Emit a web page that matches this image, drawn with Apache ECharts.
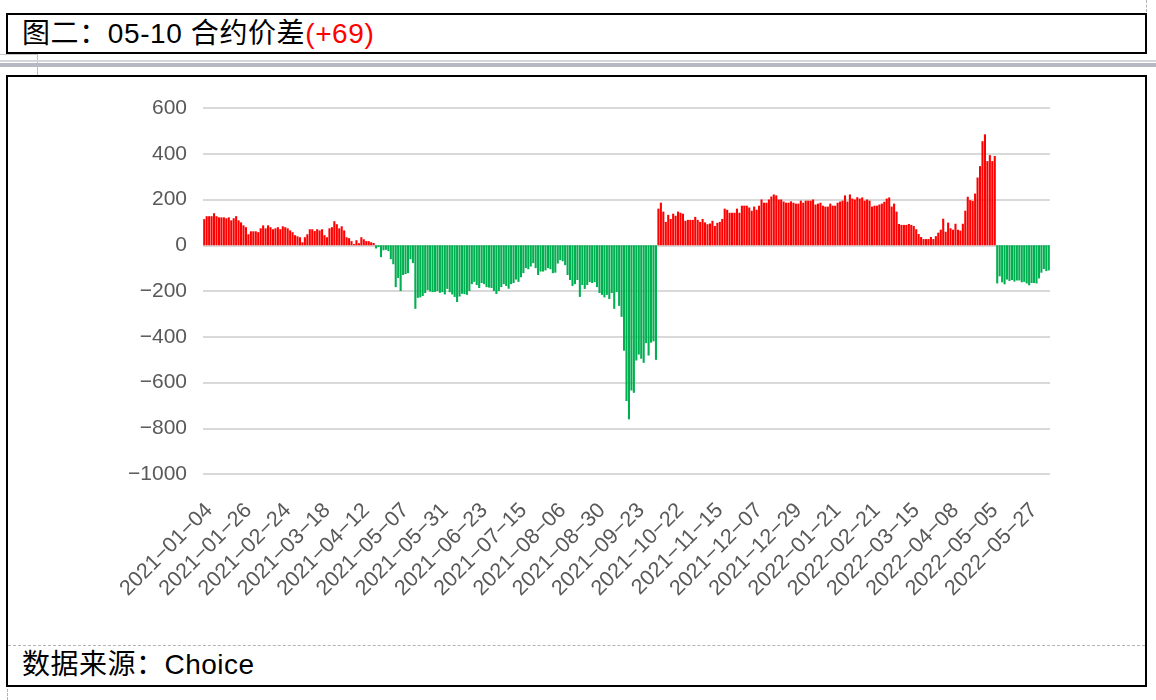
<!DOCTYPE html>
<html><head><meta charset="utf-8">
<script src="https://cdn.jsdelivr.net/npm/echarts@6/dist/echarts.min.js"></script>
<style>
html,body{margin:0;padding:0;background:#fff;width:1156px;height:700px;overflow:hidden;font-family:"Liberation Sans","Noto Sans CJK SC",sans-serif;}
.abs{position:absolute;}
#titleBox{left:6px;top:13px;width:1141px;height:41px;border:2px solid #000;box-sizing:border-box;}
#title{left:22px;top:17px;font-size:28px;line-height:34px;color:#000;white-space:nowrap;letter-spacing:0.6px;}
#title span{color:#ff0000;}
#sep1{left:0;top:60px;width:1156px;height:2px;background:#d4d4dc;}
#sep2{left:0;top:63px;width:1156px;height:4px;background:#b8b8c2;}
#cellH{left:0;top:54px;width:38px;height:1px;background:#c8c8c8;}
#cellV{left:37px;top:54px;width:1px;height:21px;background:#c0c0c0;}
#mainBox{left:6px;top:75px;width:1141px;height:612px;border:2px solid #000;box-sizing:border-box;}
#dash{left:8px;top:645px;width:1137px;height:0;border-top:1px dashed #b4b4b4;}
#src{left:22px;top:648px;font-size:28px;line-height:34px;color:#000;white-space:nowrap;letter-spacing:0.5px;}
#dashB{left:7px;top:689px;width:0;height:11px;border-left:1px dashed #b4b4b4;}
#dashT{left:1146px;top:0;width:0;height:12px;border-left:1px dashed #b4b4b4;}
#chart{left:0;top:0;width:1156px;height:700px;}
</style></head>
<body>
<div class="abs" id="titleBox"></div>
<div class="abs" id="title">图二：05-10 合约价差<span>(+69)</span></div>
<div class="abs" id="cellH"></div>
<div class="abs" id="cellV"></div>
<div class="abs" id="sep1"></div>
<div class="abs" id="sep2"></div>
<div class="abs" id="dashT"></div>
<div class="abs" id="mainBox"></div>
<div class="abs" id="dash"></div>
<div class="abs" id="src">数据来源：Choice</div>
<div class="abs" id="dashB"></div>
<div class="abs" id="chart"></div>
<script>
const dates = [
"2021-01-04","2021-01-05","2021-01-06","2021-01-07","2021-01-08","2021-01-11","2021-01-12","2021-01-13","2021-01-14","2021-01-15","2021-01-18","2021-01-19","2021-01-20","2021-01-21","2021-01-22","2021-01-25","2021-01-26","2021-01-27","2021-01-28","2021-01-29",
"2021-02-01","2021-02-02","2021-02-03","2021-02-04","2021-02-05","2021-02-08","2021-02-09","2021-02-10","2021-02-18","2021-02-19","2021-02-22","2021-02-23","2021-02-24","2021-02-25","2021-02-26",
"2021-03-01","2021-03-02","2021-03-03","2021-03-04","2021-03-05","2021-03-08","2021-03-09","2021-03-10","2021-03-11","2021-03-12","2021-03-15","2021-03-16","2021-03-17","2021-03-18","2021-03-19","2021-03-22","2021-03-23","2021-03-24","2021-03-25","2021-03-26","2021-03-29","2021-03-30","2021-03-31",
"2021-04-01","2021-04-02","2021-04-06","2021-04-07","2021-04-08","2021-04-09","2021-04-12","2021-04-13","2021-04-14","2021-04-15","2021-04-16","2021-04-19","2021-04-20","2021-04-21","2021-04-22","2021-04-23","2021-04-26","2021-04-27","2021-04-28","2021-04-29","2021-04-30",
"2021-05-06","2021-05-07","2021-05-10","2021-05-11","2021-05-12","2021-05-13","2021-05-14","2021-05-17","2021-05-18","2021-05-19","2021-05-20","2021-05-21","2021-05-24","2021-05-25","2021-05-26","2021-05-27","2021-05-28","2021-05-31",
"2021-06-01","2021-06-02","2021-06-03","2021-06-04","2021-06-07","2021-06-08","2021-06-09","2021-06-10","2021-06-11","2021-06-15","2021-06-16","2021-06-17","2021-06-18","2021-06-21","2021-06-22","2021-06-23","2021-06-24","2021-06-25","2021-06-28","2021-06-29","2021-06-30",
"2021-07-01","2021-07-02","2021-07-05","2021-07-06","2021-07-07","2021-07-08","2021-07-09","2021-07-12","2021-07-13","2021-07-14","2021-07-15","2021-07-16","2021-07-19","2021-07-20","2021-07-21","2021-07-22","2021-07-23","2021-07-26","2021-07-27","2021-07-28","2021-07-29","2021-07-30",
"2021-08-02","2021-08-03","2021-08-04","2021-08-05","2021-08-06","2021-08-09","2021-08-10","2021-08-11","2021-08-12","2021-08-13","2021-08-16","2021-08-17","2021-08-18","2021-08-19","2021-08-20","2021-08-23","2021-08-24","2021-08-25","2021-08-26","2021-08-27","2021-08-30","2021-08-31",
"2021-09-01","2021-09-02","2021-09-03","2021-09-06","2021-09-07","2021-09-08","2021-09-09","2021-09-10","2021-09-13","2021-09-14","2021-09-15","2021-09-16","2021-09-17","2021-09-22","2021-09-23","2021-09-24","2021-09-27","2021-09-28","2021-09-29","2021-09-30",
"2021-10-08","2021-10-11","2021-10-12","2021-10-13","2021-10-14","2021-10-15","2021-10-18","2021-10-19","2021-10-20","2021-10-21","2021-10-22","2021-10-25","2021-10-26","2021-10-27","2021-10-28","2021-10-29",
"2021-11-01","2021-11-02","2021-11-03","2021-11-04","2021-11-05","2021-11-08","2021-11-09","2021-11-10","2021-11-11","2021-11-12","2021-11-15","2021-11-16","2021-11-17","2021-11-18","2021-11-19","2021-11-22","2021-11-23","2021-11-24","2021-11-25","2021-11-26","2021-11-29","2021-11-30",
"2021-12-01","2021-12-02","2021-12-03","2021-12-06","2021-12-07","2021-12-08","2021-12-09","2021-12-10","2021-12-13","2021-12-14","2021-12-15","2021-12-16","2021-12-17","2021-12-20","2021-12-21","2021-12-22","2021-12-23","2021-12-24","2021-12-27","2021-12-28","2021-12-29","2021-12-30","2021-12-31",
"2022-01-04","2022-01-05","2022-01-06","2022-01-07","2022-01-10","2022-01-11","2022-01-12","2022-01-13","2022-01-14","2022-01-17","2022-01-18","2022-01-19","2022-01-20","2022-01-21","2022-01-24","2022-01-25","2022-01-26","2022-01-27","2022-01-28",
"2022-02-07","2022-02-08","2022-02-09","2022-02-10","2022-02-11","2022-02-14","2022-02-15","2022-02-16","2022-02-17","2022-02-18","2022-02-21","2022-02-22","2022-02-23","2022-02-24","2022-02-25","2022-02-28",
"2022-03-01","2022-03-02","2022-03-03","2022-03-04","2022-03-07","2022-03-08","2022-03-09","2022-03-10","2022-03-11","2022-03-14","2022-03-15","2022-03-16","2022-03-17","2022-03-18","2022-03-21","2022-03-22","2022-03-23","2022-03-24","2022-03-25","2022-03-28","2022-03-29","2022-03-30","2022-03-31",
"2022-04-01","2022-04-06","2022-04-07","2022-04-08","2022-04-11","2022-04-12","2022-04-13","2022-04-14","2022-04-15","2022-04-18","2022-04-19","2022-04-20","2022-04-21","2022-04-22","2022-04-25","2022-04-26","2022-04-27","2022-04-28","2022-04-29",
"2022-05-05","2022-05-06","2022-05-09","2022-05-10","2022-05-11","2022-05-12","2022-05-13","2022-05-16","2022-05-17","2022-05-18","2022-05-19","2022-05-20","2022-05-23","2022-05-24","2022-05-25","2022-05-26","2022-05-27","2022-05-30","2022-05-31",
"2022-06-01","2022-06-02","2022-06-06","2022-06-07","2022-06-08","2022-06-09"
];
const spread = [
114,127,127,127,140,127,122,122,122,118,
122,109,118,127,109,100,87,79,48,61,
61,61,57,74,87,74,87,79,70,74,
79,70,83,79,74,65,57,44,39,35,
13,35,48,70,70,62,70,65,70,44,
35,74,79,105,92,74,83,65,35,31,
18,5,22,9,35,26,18,18,13,10,
-14,-8,-52,-22,-20,-26,-61,-83,-183,-143,
-200,-130,-126,-122,-61,-78,-278,-230,-228,-222,
-209,-196,-202,-205,-204,-200,-208,-205,-215,-191,
-205,-215,-226,-248,-224,-212,-213,-217,-200,-170,
-160,-174,-187,-165,-170,-183,-185,-187,-200,-213,
-200,-183,-170,-178,-190,-170,-165,-150,-160,-140,
-122,-100,-105,-93,-78,-100,-130,-115,-115,-110,
-100,-105,-122,-120,-80,-65,-70,-87,-130,-152,
-178,-170,-152,-226,-174,-191,-174,-161,-165,-161,
-183,-209,-217,-228,-217,-235,-209,-278,-204,-265,
-313,-461,-681,-761,-635,-645,-504,-478,-496,-514,
-428,-482,-426,-420,-501,160,186,147,102,133,
115,138,129,147,142,138,107,111,111,111,
124,111,102,115,100,92,95,107,84,98,
102,115,160,155,142,142,142,160,142,173,
173,173,165,151,169,155,173,200,186,186,
200,213,222,218,200,200,191,186,186,192,
186,182,182,195,186,195,195,195,200,178,
182,186,173,169,169,182,173,173,186,191,
195,218,191,222,204,200,210,204,209,195,
200,195,169,173,173,178,182,190,204,209,
169,182,147,93,89,89,89,93,89,84,
70,49,36,27,27,27,36,27,40,55,
68,116,59,99,74,68,94,68,64,94,
151,212,197,194,226,296,346,455,485,368,
394,368,390,-167,-136,-162,-171,-150,-156,-152,
-159,-154,-154,-162,-160,-167,-175,-165,-165,-167,
-145,-120,-104,-113,-110
];
const yTicks = {min: -1000, max: 600, step: 200};
const UP = '#ff0000', DOWN = '#00b050';

const chart = echarts.init(document.getElementById('chart'), null, {renderer: 'canvas'});
chart.setOption({
  animation: false,
  grid: [
    {left: 203, right: 106, top: 108, bottom: 226, containLabel: false},
    {left: 208, right: 101, top: 108, bottom: 226, containLabel: false}
  ],
  xAxis: [{
    gridIndex: 0, type: 'category', data: dates,
    axisLine: {show: false}, axisTick: {show: false}, splitLine: {show: false},
    axisLabel: {show: false}
  }, {
    gridIndex: 1, type: 'category', data: dates,
    axisLine: {show: false}, axisTick: {show: false}, splitLine: {show: false},
    axisLabel: {
      interval: 15, rotate: 45, fontSize: 21.5, color: '#595959',
      fontFamily: 'Liberation Sans', margin: 33, padding: [47, 0, 0, 0],
      formatter: v => v.replace(/-/g, '\u2212')
    }
  }],
  yAxis: [{
    gridIndex: 0, type: 'value', min: yTicks.min, max: yTicks.max, interval: yTicks.step,
    axisLine: {show: false}, axisTick: {show: false},
    axisLabel: {fontSize: 21, color: '#595959', fontFamily: 'Liberation Sans', margin: 16,
      formatter: v => String(v).replace('-', '\u2212')},
    splitLine: {lineStyle: {color: '#d9d9d9', width: 2}}
  }, {
    gridIndex: 1, type: 'value', min: yTicks.min, max: yTicks.max, show: false,
    splitLine: {show: false}
  }],
  series: [{
    type: 'bar', xAxisIndex: 0, yAxisIndex: 0, data: spread, barCategoryGap: '15%',
    itemStyle: {color: p => (p.value >= 0 ? UP : DOWN)}
  }]
});
</script>
</body></html>
